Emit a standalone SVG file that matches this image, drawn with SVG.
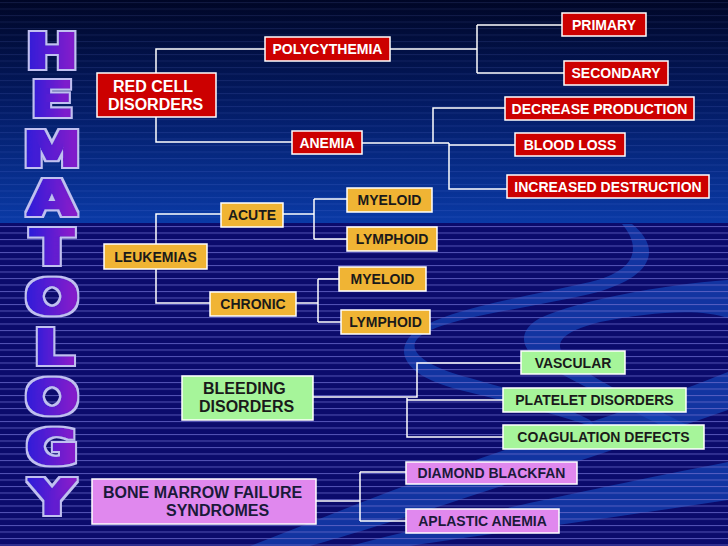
<svg xmlns="http://www.w3.org/2000/svg" width="728" height="546" viewBox="0 0 728 546">
<defs>
<linearGradient id="topGrad" x1="0" y1="0" x2="0" y2="1">
<stop offset="0" stop-color="#000626"/>
<stop offset="0.45" stop-color="#031a62"/>
<stop offset="1" stop-color="#0a3aa6"/>
</linearGradient>
<linearGradient id="letterGrad" x1="0" y1="0" x2="1" y2="0">
<stop offset="0" stop-color="#2a1ed8"/>
<stop offset="1" stop-color="#8a1ec8"/>
</linearGradient>
<filter id="thick" x="-30%" y="-30%" width="160%" height="160%">
<feMorphology in="SourceGraphic" operator="dilate" radius="1.4" result="fat"/>
<feMorphology in="SourceAlpha" operator="dilate" radius="3" result="outA"/>
<feFlood flood-color="#c0c0f0"/>
<feComposite in2="outA" operator="in" result="out"/>
<feMerge><feMergeNode in="out"/><feMergeNode in="fat"/></feMerge>
</filter>
<pattern id="linesLow" patternUnits="userSpaceOnUse" x="0" y="226" width="728" height="6.5">
<rect x="0" y="0" width="728" height="1" fill="#6a6acc" opacity="0.75"/>
</pattern>
<pattern id="linesTop" patternUnits="userSpaceOnUse" x="0" y="2" width="728" height="6.5">
<rect x="0" y="0" width="728" height="1" fill="#8aa0ff" opacity="0.12"/>
</pattern>
</defs>
<style>
.box{stroke:#ffffff;stroke-width:1.5}
.red{fill:#cc0000}
.yel{fill:#f0b434}
.grn{fill:#a6f59a}
.pnk{fill:#e088ee}
.t{font-family:"Liberation Sans",Arial,sans-serif;font-weight:bold;font-size:14px;text-anchor:middle}
.t2{font-family:"Liberation Sans",Arial,sans-serif;font-weight:bold;font-size:16px}
.w{fill:#ffffff}
.k{fill:#1a1a1a}
.kn{fill:#1a1a3a}
.conn{fill:none;stroke:#ffffff;stroke-width:1.5}
.sw{fill:#1646b8;opacity:0.7}
.lt{font-family:"DejaVu Sans","Liberation Sans",sans-serif;font-weight:bold;font-size:48px;text-anchor:middle;fill:url(#letterGrad);filter:url(#thick)}
</style>

<!-- background -->
<rect x="0" y="0" width="728" height="223" fill="url(#topGrad)"/>
<rect x="0" y="0" width="728" height="223" fill="url(#linesTop)"/>
<rect x="0" y="223" width="728" height="323" fill="#0b0b6c"/>
<path class="sw" d="M632,224 C662,248 655,278 590,294 C520,310 440,318 418,338 C405,352 430,368 470,378 C520,392 560,405 590,420 L596,428 C560,415 510,402 460,390 C410,378 392,355 412,334 C440,310 520,298 590,282 C640,270 640,245 622,224 Z"/>
<path class="sw" d="M728,280 C660,285 580,300 540,318 C515,332 520,352 550,368 C600,395 650,420 690,440 L700,432 C660,410 600,385 570,360 C550,345 560,332 600,322 C650,312 700,308 728,318 Z"/>
<path class="sw" d="M250,546 C330,515 420,478 520,445 C600,420 670,395 728,372 L728,410 C670,430 600,455 520,480 C430,510 350,535 310,546 Z"/>
<path class="sw" d="M350,546 C450,520 560,495 728,462 L728,500 C600,520 480,535 410,546 Z"/>
<rect x="0" y="223" width="728" height="323" fill="url(#linesLow)"/>

<!-- title letters -->
<g id="title">
<text class="lt" transform="translate(52,68) scale(1.3,1)">H</text>
<text class="lt" transform="translate(52,116) scale(1.3,1)">E</text>
<text class="lt" transform="translate(52,166) scale(1.2,1)">M</text>
<text class="lt" transform="translate(52,215) scale(1.3,1)">A</text>
<text class="lt" transform="translate(52,264) scale(1.3,1)">T</text>
<text class="lt" transform="translate(52,314) scale(1.3,1)">O</text>
<text class="lt" transform="translate(54,364) scale(1.3,1)">L</text>
<text class="lt" transform="translate(52,414) scale(1.3,1)">O</text>
<text class="lt" transform="translate(52,464) scale(1.3,1)">G</text>
<text class="lt" transform="translate(52,514) scale(1.3,1)">Y</text>
</g>

<!-- connectors -->
<g id="connectors" class="conn">
<path d="M156,73 V49 H265"/>
<path d="M156,117 V142 H292"/>
<path d="M390,49 H477"/>
<path d="M477,25 V73"/>
<path d="M477,25 H562"/>
<path d="M477,73 H564"/>
<path d="M362,143 H449"/>
<path d="M433,143 V108 H505"/>
<path d="M449,143 V189 H507"/>
<path d="M449,145 H515"/>
<path d="M156,244 V214 H221"/>
<path d="M156,269 V303 H210"/>
<path d="M283,214 H314"/>
<path d="M314,199 V239"/>
<path d="M314,199 H347"/>
<path d="M314,239 H347"/>
<path d="M296,303 H318"/>
<path d="M318,279 V322"/>
<path d="M318,279 H339"/>
<path d="M318,322 H341"/>
<path d="M313,397 H417 V363 H521"/>
<path d="M407,398 V437 H503"/>
<path d="M407,400 H503"/>
<path d="M316,501 H360"/>
<path d="M360,472 V521"/>
<path d="M360,472 H406"/>
<path d="M360,521 H406"/>
</g>

<!-- nodes -->
<g id="red-cell-disorders">
<rect class="box red" x="97" y="73" width="119" height="44"/>
<text class="t2 w" x="113" y="92">RED CELL</text>
<text class="t2 w" x="108" y="110">DISORDERS</text>
</g>
<g id="polycythemia">
<rect class="box red" x="265" y="37" width="125" height="24"/>
<text class="t w" x="327.5" y="54">POLYCYTHEMIA</text>
</g>
<g id="primary">
<rect class="box red" x="562" y="13" width="84" height="23"/>
<text class="t w" x="604" y="29.5">PRIMARY</text>
</g>
<g id="secondary">
<rect class="box red" x="564" y="61" width="104" height="24"/>
<text class="t w" x="616" y="78">SECONDARY</text>
</g>
<g id="anemia">
<rect class="box red" x="292" y="131" width="70" height="23"/>
<text class="t w" x="327" y="147.5">ANEMIA</text>
</g>
<g id="decrease-production">
<rect class="box red" x="505" y="97" width="189" height="23"/>
<text class="t w" x="599.5" y="113.5">DECREASE PRODUCTION</text>
</g>
<g id="blood-loss">
<rect class="box red" x="515" y="133" width="110" height="23"/>
<text class="t w" x="570" y="149.5">BLOOD LOSS</text>
</g>
<g id="increased-destruction">
<rect class="box red" x="507" y="175" width="202" height="23"/>
<text class="t w" x="608" y="191.5">INCREASED DESTRUCTION</text>
</g>
<g id="leukemias">
<rect class="box yel" x="104" y="244" width="103" height="25"/>
<text class="t k" x="155.5" y="261.5">LEUKEMIAS</text>
</g>
<g id="acute">
<rect class="box yel" x="221" y="203" width="62" height="24"/>
<text class="t k" x="252" y="220">ACUTE</text>
</g>
<g id="acute-myeloid">
<rect class="box yel" x="347" y="188" width="85" height="24"/>
<text class="t k" x="389.5" y="205">MYELOID</text>
</g>
<g id="acute-lymphoid">
<rect class="box yel" x="347" y="227" width="90" height="24"/>
<text class="t k" x="392" y="244">LYMPHOID</text>
</g>
<g id="chronic">
<rect class="box yel" x="210" y="292" width="86" height="24"/>
<text class="t k" x="253" y="309">CHRONIC</text>
</g>
<g id="chronic-myeloid">
<rect class="box yel" x="339" y="267" width="87" height="24"/>
<text class="t k" x="382.5" y="284">MYELOID</text>
</g>
<g id="chronic-lymphoid">
<rect class="box yel" x="341" y="310" width="89" height="24"/>
<text class="t k" x="385.5" y="327">LYMPHOID</text>
</g>
<g id="bleeding-disorders">
<rect class="box grn" x="182" y="376" width="131" height="44"/>
<text class="t2 k" x="203" y="394">BLEEDING</text>
<text class="t2 k" x="199" y="412">DISORDERS</text>
</g>
<g id="vascular">
<rect class="box grn" x="521" y="351" width="104" height="23"/>
<text class="t k" x="573" y="367.5">VASCULAR</text>
</g>
<g id="platelet-disorders">
<rect class="box grn" x="503" y="388" width="183" height="24"/>
<text class="t k" x="594.5" y="405">PLATELET DISORDERS</text>
</g>
<g id="coagulation-defects">
<rect class="box grn" x="503" y="425" width="201" height="24"/>
<text class="t k" x="603.5" y="442">COAGULATION DEFECTS</text>
</g>
<g id="bone-marrow-failure">
<rect class="box pnk" x="92" y="479" width="224" height="45"/>
<text class="t2 kn" x="103" y="498">BONE MARROW FAILURE</text>
<text class="t2 kn" x="166" y="516">SYNDROMES</text>
</g>
<g id="diamond-blackfan">
<rect class="box pnk" x="406" y="462" width="171" height="22"/>
<text class="t kn" x="491.5" y="478">DIAMOND BLACKFAN</text>
</g>
<g id="aplastic-anemia">
<rect class="box pnk" x="406" y="509" width="153" height="24"/>
<text class="t kn" x="482.5" y="526">APLASTIC ANEMIA</text>
</g>
</svg>
